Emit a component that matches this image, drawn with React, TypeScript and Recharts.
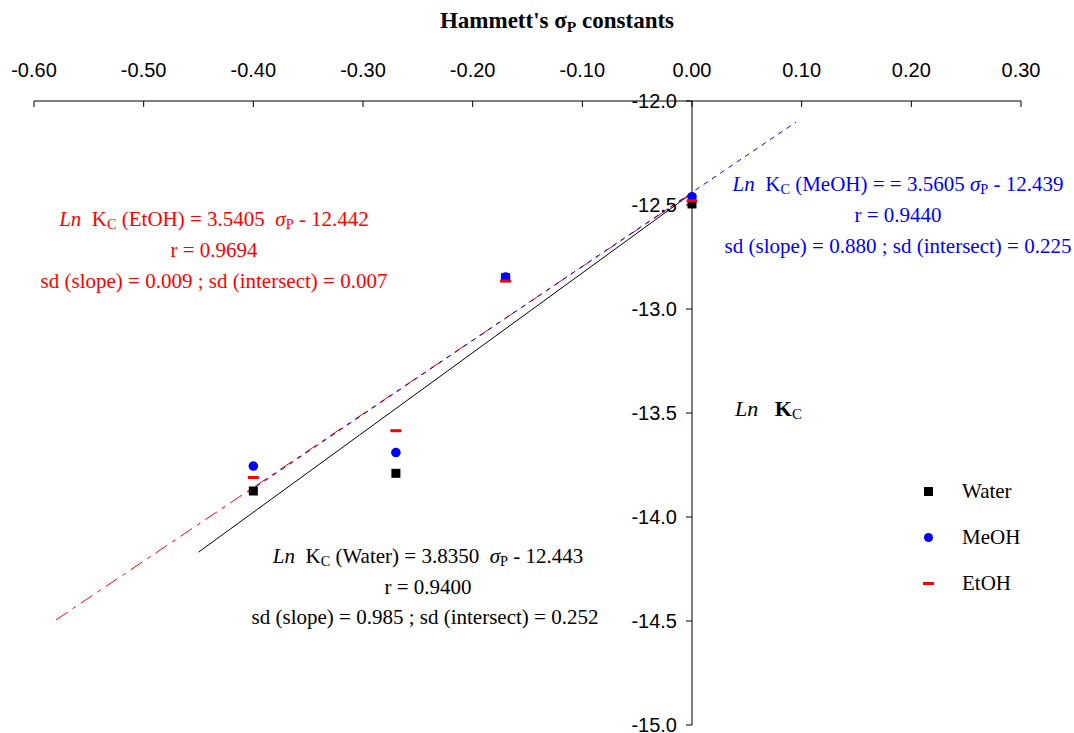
import React from 'react';
import {
  ComposedChart,
  XAxis,
  YAxis,
  Scatter,
  Line,
  ReferenceLine,
  ReferenceDot,
  Legend,
} from 'recharts';

// ---- data ----
const xTicks = [-0.6, -0.5, -0.4, -0.3, -0.2, -0.1, 0, 0.1, 0.2, 0.3];
const yTicks = [-12, -12.5, -13, -13.5, -14, -14.5, -15];

const sigmaP = [-0.4, -0.27, -0.17, 0.0];
const waterLnKc = [-13.875, -13.79, -12.85, -12.495];
const meohLnKc = [-13.755, -13.69, -12.846, -12.46];
const etohLnKc = [-13.81, -13.585, -12.865, -12.48];

const waterFitX = [-0.45, 0];
const waterFitY = [-14.169, -12.443];
const etohFitX = [-0.58, 0];
const etohFitY = [-14.495, -12.442];
const meohFitX = [-0.405, 0.095];
const meohFitY = [-13.881, -12.101];

const seriesNames = ['Water', 'MeOH', 'EtOH'];

const toPts = (xs: number[], ys: number[]) => xs.map((x, i) => ({ x, y: ys[i] }));

const waterData = toPts(sigmaP, waterLnKc);
const meohData = toPts(sigmaP, meohLnKc);
const etohData = toPts(sigmaP, etohLnKc);
const waterFit = toPts(waterFitX, waterFitY);
const etohFit = toPts(etohFitX, etohFitY);
const meohFit = toPts(meohFitX, meohFitY);

const W = 1074;
const H = 733;
const tickFont = '"Liberation Sans", Arial, sans-serif';
const serif = '"Liberation Serif", "Times New Roman", serif';

const SquareShape = (p: any) => (
  <rect x={p.cx - 4.5} y={p.cy - 4.5} width={9} height={9} fill="#000" />
);
const CircleShape = (p: any) => <circle cx={p.cx} cy={p.cy} r={4.8} fill="#0000ff" />;
const DashShape = (p: any) => (
  <rect x={p.cx - 5.5} y={p.cy - 1.5} width={11} height={3} fill="#ff0000" />
);

const XTick = (p: any) => {
  const { x, y, payload } = p;
  return (
    <g>
      <line x1={x} y1={y} x2={x} y2={y + 6} stroke="#000" strokeWidth={1} />
      <text
        x={x}
        y={y - 31}
        textAnchor="middle"
        dominantBaseline="central"
        fontFamily={tickFont}
        fontSize={20}
        fill="#000"
      >
        {Number(payload.value).toFixed(2)}
      </text>
    </g>
  );
};

const makeYTick = (v: number) => (p: any) => {
  const { cx, cy } = p;
  return (
    <g>
      <line x1={cx - 6} y1={cy} x2={cx} y2={cy} stroke="#000" strokeWidth={1} />
      <text
        x={cx - 15}
        y={cy}
        textAnchor="end"
        dominantBaseline="central"
        fontFamily={tickFont}
        fontSize={20}
        fill="#000"
      >
        {v.toFixed(1)}
      </text>
    </g>
  );
};

const legendMarkers: Record<string, React.ReactNode> = {
  Water: <div style={{ width: 9, height: 9, background: '#000' }} />,
  MeOH: <div style={{ width: 9, height: 9, borderRadius: '50%', background: '#0000ff' }} />,
  EtOH: <div style={{ width: 11, height: 3, background: '#ff0000' }} />,
};

const renderLegend = () => (
  <div style={{ fontFamily: serif, fontSize: 21, color: '#000', textAlign: 'left' }}>
    {seriesNames.map((n) => (
      <div key={n} style={{ display: 'flex', alignItems: 'center', height: 46 }}>
        <div style={{ width: 34, display: 'flex', justifyContent: 'center', alignItems: 'center' }}>
          {legendMarkers[n]}
        </div>
        <span style={{ marginLeft: 17 }}>{n}</span>
      </div>
    ))}
  </div>
);

const Centered = ({ x, y, color, children, size = 21 }: any) => (
  <div
    style={{
      position: 'absolute',
      left: x,
      top: y,
      transform: 'translate(-50%, -50%)',
      whiteSpace: 'nowrap',
      fontFamily: serif,
      fontSize: size,
      color,
      lineHeight: 1,
    }}
  >
    {children}
  </div>
);

const sub = (t: string) => (
  <sub style={{ fontSize: '0.68em', verticalAlign: '-0.25em' }}>{t}</sub>
);

export default function App() {
  return (
    <div style={{ position: 'absolute', left: 0, top: 0, width: W, height: H, background: '#fff' }}>
      <ComposedChart
        width={W}
        height={H}
        margin={{ top: 61, right: 53, bottom: 8, left: 34 }}
      >
        <XAxis
          dataKey="x"
          type="number"
          orientation="top"
          domain={[-0.6, 0.3]}
          ticks={xTicks}
          interval={0}
          height={40}
          tickSize={0}
          tickMargin={0}
          tick={<XTick />}
          axisLine={{ stroke: '#000', strokeWidth: 1 }}
          allowDataOverflow
        />
        <YAxis dataKey="y" type="number" domain={[-15, -12]} hide allowDataOverflow />
        <ReferenceLine x={0} stroke="#000" strokeWidth={1} ifOverflow="visible" />
        {yTicks.map((t) => (
          <ReferenceDot
            key={t}
            x={0}
            y={t}
            r={1}
            ifOverflow="visible"
            shape={makeYTick(t)}
          />
        ))}
        <Line
          data={waterFit}
          dataKey="y"
          stroke="#000"
          strokeWidth={1}
          dot={false}
          activeDot={false}
          legendType="none"
          isAnimationActive={false}
        />
        <Line
          data={etohFit}
          dataKey="y"
          stroke="#ff0000"
          strokeWidth={1}
          strokeDasharray="14 6 4 6"
          dot={false}
          activeDot={false}
          legendType="none"
          isAnimationActive={false}
        />
        <Line
          data={meohFit}
          dataKey="y"
          stroke="#0000ff"
          strokeWidth={1}
          strokeDasharray="5 5"
          dot={false}
          activeDot={false}
          legendType="none"
          isAnimationActive={false}
        />
        <Scatter name="Water" data={waterData} dataKey="y" shape={SquareShape} isAnimationActive={false} />
        <Scatter name="MeOH" data={meohData} dataKey="y" shape={CircleShape} isAnimationActive={false} />
        <Scatter name="EtOH" data={etohData} dataKey="y" shape={DashShape} isAnimationActive={false} />
        <Legend
          layout="horizontal"
          align="center"
          verticalAlign="middle"
          content={renderLegend}
          wrapperStyle={{ position: 'absolute', left: 911, top: 468, width: 150 }}
        />
      </ComposedChart>

      <Centered x={557} y={22} color="#000" size={23}>
        <b>
          Hammett's σ{sub('P')} constants
        </b>
      </Centered>

      <Centered x={214} y={220} color="#ff0000">
        <i>Ln</i>&nbsp; K{sub('C')} (EtOH) = 3.5405&nbsp; <i>σ</i>{sub('P')} - 12.442
      </Centered>
      <Centered x={214} y={250} color="#ff0000">r = 0.9694</Centered>
      <Centered x={214} y={281} color="#ff0000">
        sd (slope) = 0.009 ; sd (intersect) = 0.007
      </Centered>

      <Centered x={898} y={185} color="#0000ff">
        <i>Ln</i>&nbsp; K{sub('C')} (MeOH) = = 3.5605 <i>σ</i>{sub('P')} - 12.439
      </Centered>
      <Centered x={898} y={215} color="#0000ff">r = 0.9440</Centered>
      <Centered x={898} y={246} color="#0000ff">
        sd (slope) = 0.880 ; sd (intersect) = 0.225
      </Centered>

      <Centered x={428} y={557} color="#000">
        <i>Ln</i>&nbsp; K{sub('C')} (Water) = 3.8350&nbsp; <i>σ</i>{sub('P')} - 12.443
      </Centered>
      <Centered x={428} y={587} color="#000">r = 0.9400</Centered>
      <Centered x={425} y={617} color="#000">
        sd (slope) = 0.985 ; sd (intersect) = 0.252
      </Centered>

      <div
        style={{
          position: 'absolute',
          left: 735,
          top: 410,
          transform: 'translateY(-50%)',
          fontFamily: serif,
          fontSize: 22,
          whiteSpace: 'nowrap',
          lineHeight: 1,
        }}
      >
        <i>Ln</i>&nbsp;&nbsp; <b>K</b>{sub('C')}
      </div>
    </div>
  );
}
